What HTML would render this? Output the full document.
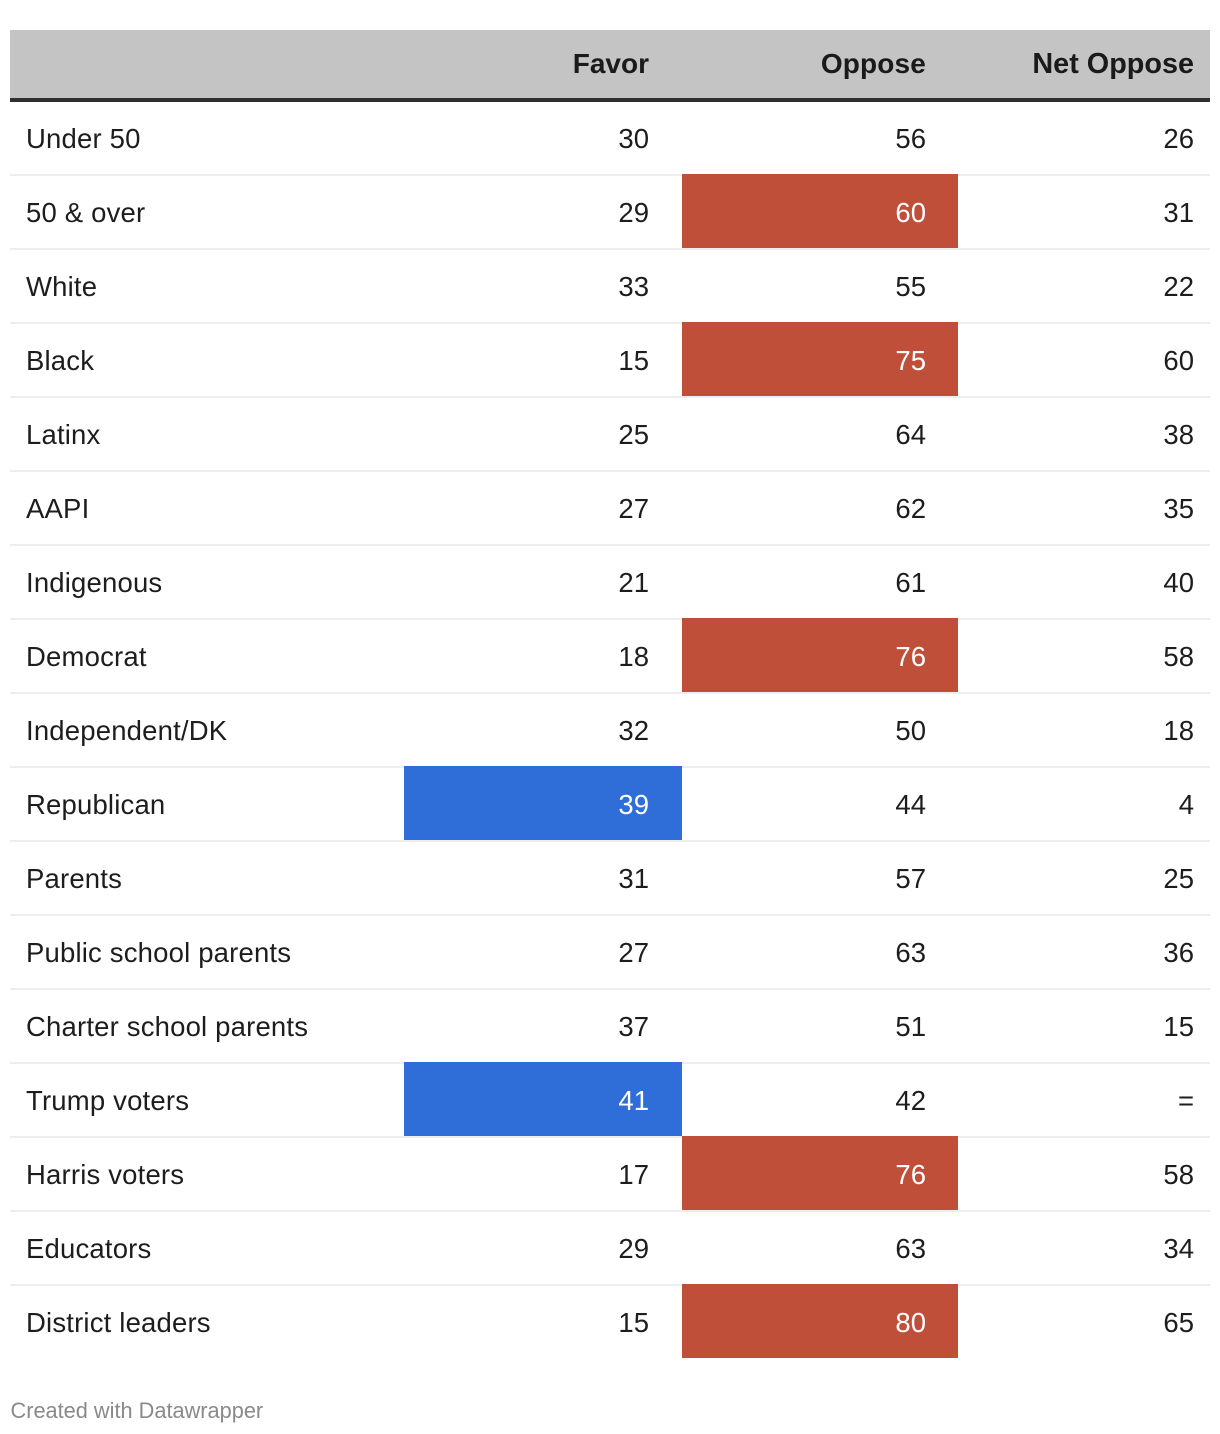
<!DOCTYPE html>
<html lang="en">
<head>
<meta charset="utf-8">
<title>Favor / Oppose table</title>
<style>
html,body{margin:0;padding:0;background:#fff;}
body{width:1220px;height:1434px;position:relative;overflow:hidden;font-family:"Liberation Sans",sans-serif;color:#1d1d1d;}
#table-root{position:absolute;left:0;top:0;width:1220px;height:1434px;}
.abs{position:absolute;}
.head{top:30px;height:68px;line-height:68px;font-size:28px;font-weight:bold;text-align:right;color:#1a1a1a;white-space:nowrap;}
.cell{height:74px;line-height:73px;font-size:27.5px;white-space:nowrap;text-align:right;box-sizing:border-box;}
.label{text-align:left;font-size:27.5px;letter-spacing:0.18px;}
.rule{left:10px;width:1200px;height:2px;background:#eeeeee;}
</style>
</head>
<body>
<div id="table-root">
  <div class="abs" style="left:10px;top:30px;width:1200px;height:68px;background:#c4c4c4"></div>
  <div class="abs" style="left:10px;top:98px;width:1200px;height:4px;background:#2f2f2f"></div>
  <div class="abs head" style="right:571px">Favor</div>
  <div class="abs head" style="right:294px;letter-spacing:0.15px">Oppose</div>
  <div class="abs head" style="right:26px;font-size:28.8px">Net Oppose</div>
  <div class="abs" style="left:10.5px;top:1397px;font-size:21.75px;line-height:28px;color:#8a8a8a;white-space:nowrap">Created with Datawrapper</div>
</div>
<script>
const categories = ["Under 50","50 & over","White","Black","Latinx","AAPI","Indigenous","Democrat","Independent/DK","Republican","Parents","Public school parents","Charter school parents","Trump voters","Harris voters","Educators","District leaders"];
const favorValues = [30,29,33,15,25,27,21,18,32,39,31,27,37,41,17,29,15];
const opposeValues = [56,60,55,75,64,62,61,76,50,44,57,63,51,42,76,63,80];
const netOpposeValues = ["26","31","22","60","38","35","40","58","18","4","25","36","15","=","58","34","65"];
const favorHighlighted = ["Republican","Trump voters"];
const opposeHighlighted = ["50 & over","Black","Democrat","Harris voters","District leaders"];

const root = document.getElementById('table-root');
const ROW_START = 102, ROW_H = 74;
function rowTop(i){ return i === 0 ? ROW_START : ROW_START + ROW_H * i - 2; }

function addCell(i, text, cls, left, width, padRight, fill){
  const el = document.createElement('div');
  el.className = 'abs cell ' + cls;
  el.style.left = left + 'px';
  el.style.width = width + 'px';
  el.style.top = (rowTop(i) + (i === 0 ? 0 : 2)) + 'px';
  el.style.paddingRight = padRight + 'px';
  if (fill) {
    el.style.top = rowTop(i) + 'px';
    el.style.lineHeight = '77px';
    el.style.background = fill;
    el.style.color = '#ffffff';
  }
  el.textContent = text;
  return el;
}

categories.forEach(function(name, i){
  if (i < categories.length - 1) {
    const rule = document.createElement('div');
    rule.className = 'abs rule';
    rule.style.top = (ROW_START + ROW_H * (i + 1) - 2) + 'px';
    
    
    root.appendChild(rule);
  }
});

categories.forEach(function(name, i){
  const label = addCell(i, name, 'label', 26, 370, 0, null);
  
  
  root.appendChild(label);

  const favorFill = favorHighlighted.indexOf(name) >= 0 ? '#2f6dd8' : null;
  const favor = addCell(i, String(favorValues[i]), 'favor', 404, 278, 33, favorFill);
  
  
  root.appendChild(favor);

  const opposeFill = opposeHighlighted.indexOf(name) >= 0 ? '#c04f3a' : null;
  const oppose = addCell(i, String(opposeValues[i]), 'oppose', 682, 276, 32, opposeFill);
  
  
  root.appendChild(oppose);

  const net = addCell(i, netOpposeValues[i], 'net', 958, 252, 16, null);
  
  
  root.appendChild(net);
});
</script>
</body>
</html>
